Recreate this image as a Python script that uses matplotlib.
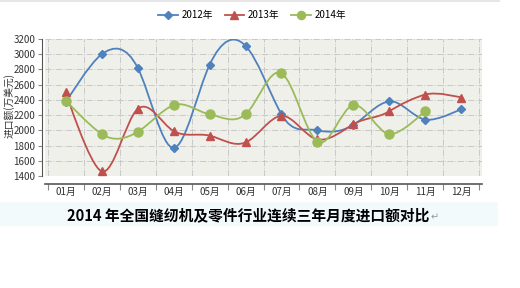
import matplotlib.pyplot as plt
from matplotlib.path import Path
from matplotlib.patches import PathPatch, Rectangle
from matplotlib.lines import Line2D

plt.rcParams["font.family"] = ["Noto Sans CJK SC", "DejaVu Sans"]

# 数据（万美元）
months = ["01月", "02月", "03月", "04月", "05月", "06月",
          "07月", "08月", "09月", "10月", "11月", "12月"]
imp_2012 = [2370, 3000, 2820, 1770, 2860, 3110, 2210, 2000, 2070, 2380, 2140, 2280]
imp_2013 = [2500, 1460, 2280, 1990, 1930, 1840, 2190, 1880, 2080, 2250, 2470, 2430]
imp_2014 = [2390, 1950, 1980, 2330, 2210, 2210, 2750, 1850, 2330, 1950, 2260]

series = [
    ("2012年", imp_2012, "#4F81BD", "D", 4.5),
    ("2013年", imp_2013, "#C0504D", "^", 6),
    ("2014年", imp_2014, "#9BBB59", "o", 6.5),
]


def smooth_path(ys, k=0.25):
    """平滑曲线：三次贝塞尔，端点控制点取自身"""
    n = len(ys)
    verts = [(0, ys[0])]
    codes = [Path.MOVETO]
    for i in range(n - 1):
        if i == 0:
            c1 = (0, ys[0])
        else:
            c1 = (i + 1 / 3, ys[i] + k * (ys[i + 1] - ys[i - 1]))
        if i + 1 == n - 1:
            c2 = (i + 1, ys[i + 1])
        else:
            c2 = (i + 2 / 3, ys[i + 1] - k * (ys[i + 2] - ys[i]))
        verts += [c1, c2, (i + 1, ys[i + 1])]
        codes += [Path.CURVE4] * 3
    return Path(verts, codes)


fig = plt.figure(figsize=(5.2, 2.88), dpi=100)
fig.patch.set_facecolor("white")
ax = fig.add_axes([0.0865, 0.389, 0.8405, 0.4757])
ax.set_facecolor("#F0F0EA")

for name, ys, color, marker, ms in series:
    ax.add_patch(PathPatch(smooth_path(ys), fill=False, edgecolor=color,
                           linewidth=1.3, zorder=3))
    ax.plot(range(len(ys)), ys, linestyle="none", marker=marker,
            markersize=ms, color=color, markeredgecolor=color, zorder=4,
            clip_on=False)

# 坐标轴
ax.set_xlim(-0.58, 11.58)
ax.set_ylim(1400, 3200)
ax.set_yticks(range(1400, 3201, 200))
ax.set_xticks([i + 0.5 for i in range(-1, 12)])
ax.set_xticklabels([])
ax.set_xticks(range(12), minor=True)
ax.set_xticklabels(months, minor=True)
ax.tick_params(axis="x", which="minor", length=0, pad=2, labelsize=7,
               labelcolor="#333333")
ax.tick_params(axis="x", which="major", length=4, color="#888888", direction="out")
ax.tick_params(axis="y", length=3, color="#888888", labelsize=7,
               labelcolor="#333333", pad=2)

ax.grid(True, which="major", color="#C8C8C8", linestyle="-.", linewidth=0.7)
ax.set_axisbelow(True)

for side in ["top", "right"]:
    ax.spines[side].set_visible(False)
ax.spines["left"].set_position(("outward", 2))
ax.spines["bottom"].set_position(("outward", 6))
ax.spines["left"].set_color("#555555")
ax.spines["bottom"].set_color("#555555")
ax.spines["bottom"].set_linewidth(1.2)

# 纵轴标题
fig.text(9 / 520, 1 - 106 / 288, "进口额(万美元)", rotation=90, ha="center",
         va="center", fontsize=7, color="#333333")

# 图例
handles = [Line2D([], [], color=c, marker=m, markersize=ms * 0.9, linewidth=1.3)
           for _, _, c, m, ms in series]
fig.legend(handles, [s[0] for s in series], loc="center",
           bbox_to_anchor=(0.485, 0.948), ncol=3, frameon=False, fontsize=7,
           handlelength=2.0, handletextpad=0.4, columnspacing=1.2)

# 图下标题
fig.patches.append(Rectangle((0, 1 - 226 / 288), 498 / 520, 24 / 288,
                             transform=fig.transFigure, facecolor="#F2FAFC",
                             edgecolor="none", zorder=0))
fig.patches.append(Rectangle((0, 1 - 2 / 288), 500 / 520, 1.5 / 288,
                             transform=fig.transFigure, facecolor="#E6E6E6",
                             edgecolor="none", zorder=0))
fig.text(0.478, 1 - 215 / 288, "2014 年全国缝纫机及零件行业连续三年月度进口额对比",
         ha="center", va="center", fontsize=10.6, fontweight="bold",
         color="black")
fig.text(431 / 520, 1 - 217 / 288, "↵", ha="left", va="center", fontsize=7,
         color="#999999", family=["DejaVu Sans"])

fig.savefig("out.png", dpi=100)
